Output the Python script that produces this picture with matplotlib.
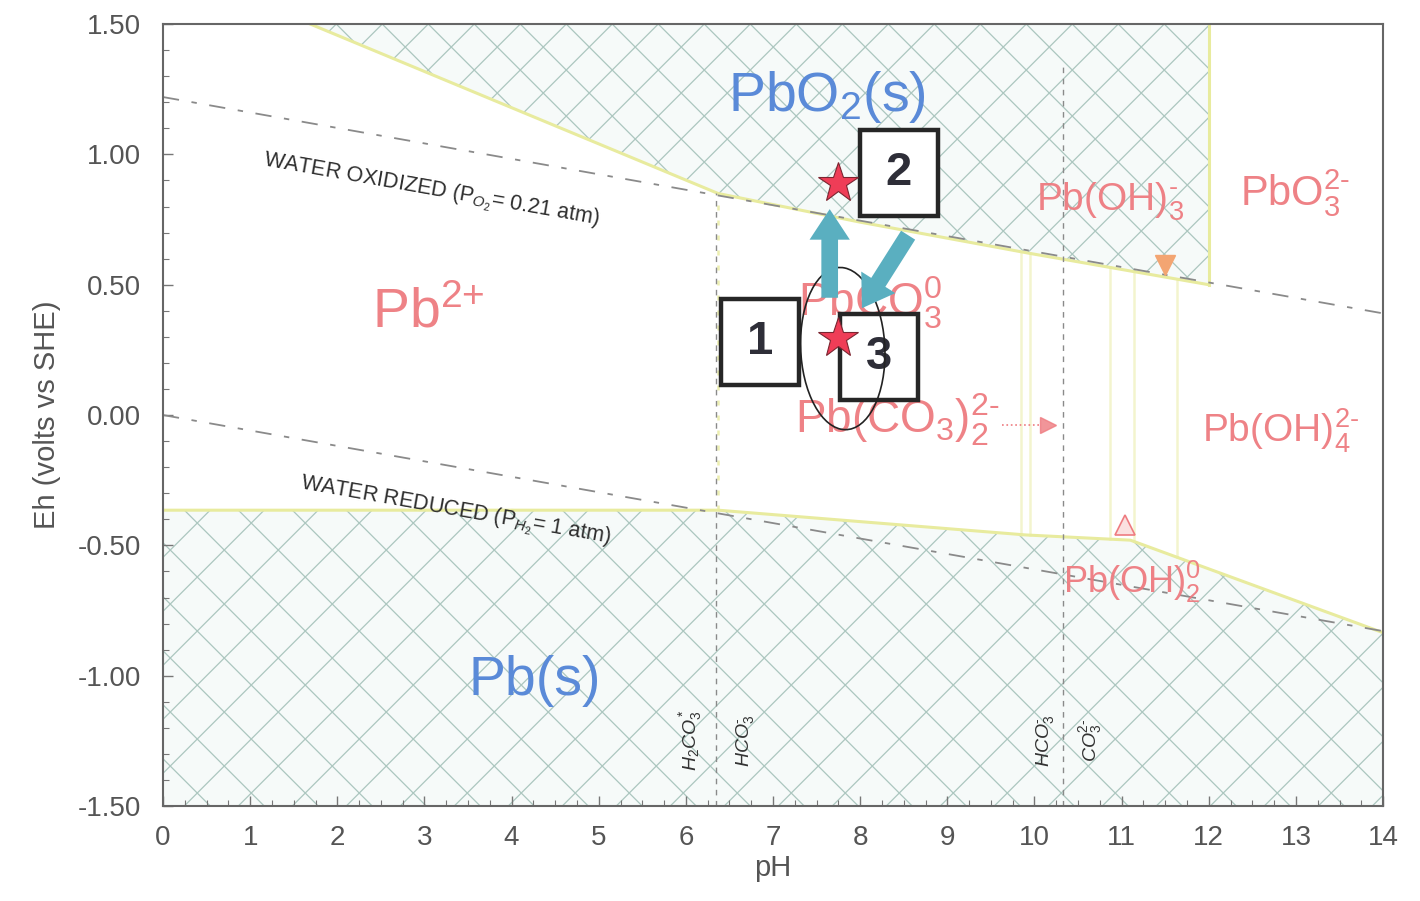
import numpy as np
import matplotlib
matplotlib.use("Agg")
import matplotlib.pyplot as plt
from matplotlib.patches import Polygon, Rectangle, Ellipse
from matplotlib.ticker import MultipleLocator, FixedLocator

plt.rcParams['font.family'] = ['Liberation Sans', 'DejaVu Sans']
plt.rcParams['mathtext.fontset'] = 'custom'
plt.rcParams['mathtext.rm'] = 'Liberation Sans'
plt.rcParams['mathtext.it'] = 'Liberation Sans:italic'
plt.rcParams['mathtext.bf'] = 'Liberation Sans:bold'

# ---- axes ----
ph_range = (0, 14)
eh_range = (-1.5, 1.5)
ph_ticks = list(range(0, 15))
eh_ticks = [-1.5, -1.0, -0.5, 0.0, 0.5, 1.0, 1.5]
eh_tick_labels = ["-1.50", "-1.00", "-0.50", "0.00", "0.50", "1.00", "1.50"]

# ---- solid-phase stability fields (pH, Eh / V) ----
pbo2_ph = [1.69, 6.37, 8.0, 9.95, 12.0, 12.0]
pbo2_eh = [1.50, 0.85, 0.74, 0.62, 0.50, 1.50]
pbs_ph = [0.0, 0.0, 6.37, 9.9, 11.1, 14.0, 14.0]
pbs_eh = [-1.50, -0.365, -0.365, -0.46, -0.48, -0.835, -1.50]

# ---- water stability limits ----
water_ph = [0.0, 14.0]
o2_eh = [1.22, 0.39]
h2_eh = [0.0, -0.829]

# ---- aqueous-species boundaries (vertical) ----
aq_ph = [6.37, 9.84, 9.95, 10.87, 11.14, 11.64]
carb_ph = [6.35, 10.33]          # H2CO3*/HCO3-  and  HCO3-/CO3 2-
carb_top = [0.85, 1.35]

# ---- species labels ----
solid_labels = ["PbO$_2$(s)", "Pb(s)"]
solid_pos = [(7.62, 1.22), (4.27, -1.02)]
aq_labels = ["Pb$^{\\text{2+}}$", "PbCO$_3^0$", "Pb(CO$_3$)$_2^{\\text{2-}}$",
             "Pb(OH)$_3^{\\text{-}}$", "PbO$_3^{\\text{2-}}$",
             "Pb(OH)$_4^{\\text{2-}}$", "Pb(OH)$_2^0$"]
aq_pos = [(3.04, 0.39), (8.11, 0.43), (8.43, -0.02), (10.87, 0.82),
          (12.99, 0.85), (12.82, -0.06), (11.12, -0.64)]
aq_sizes = [40, 33, 33, 28, 30, 28, 26]

carb_labels = ["H$_2$CO$_3^*$", "HCO$_3^{\\text{-}}$", "HCO$_3^{\\text{-}}$",
               "CO$_3^{\\text{2-}}$"]
carb_label_ph = [6.05, 6.68, 10.12, 10.64]
carb_label_eh = -1.25

# ---- sample states ----
box_labels = ["1", "2", "3"]
box_ph = [6.85, 8.44, 8.22]
box_eh = [0.28, 0.93, 0.223]
star_ph = [7.75, 7.75]
star_eh = [0.892, 0.296]
loop_center = (7.80, 0.255)
loop_size = (0.97, 0.62)
arrow_from = [(7.65, 0.45), (8.55, 0.69)]
arrow_to = [(7.65, 0.79), (8.02, 0.41)]

pink = '#ee7b80'
blue = '#5a8ad8'
yellow = '#e8eb9e'
hatch_col = '#abc6bf'
tint = '#f6faf9'
teal = '#5aafc0'

fig = plt.figure(figsize=(14.2, 9.01), dpi=100)
ax = fig.add_axes([0.1148, 0.1054, 0.8592, 0.8679])
ax.set_xlim(*ph_range)
ax.set_ylim(*eh_range)


def hatch_region(xs, ys, spacing_px):
    poly = Polygon(np.column_stack([xs, ys]), closed=True, facecolor=tint,
                   edgecolor='none', zorder=1)
    ax.add_patch(poly)
    bb = ax.get_window_extent()
    sx = bb.width / (ph_range[1] - ph_range[0])
    sy = bb.height / (eh_range[1] - eh_range[0])
    k = sx / sy
    step = spacing_px / sx
    xl = np.array([-6.0, 20.0])
    for c in np.arange(-12, 26, step):
        for sgn in (1, -1):
            ln, = ax.plot(xl, sgn * k * (xl - c), color=hatch_col, lw=0.9,
                          zorder=1.5, scalex=False, scaley=False)
            ln.set_clip_path(poly)


hatch_region(pbo2_ph, pbo2_eh, 46)
hatch_region(pbs_ph, pbs_eh, 54)

# field boundaries
ax.plot(pbo2_ph[:5], pbo2_eh[:5], color=yellow, lw=2.2, zorder=2)
ax.plot(pbo2_ph[4:], pbo2_eh[4:], color=yellow, lw=2.2, zorder=2)
ax.plot(pbs_ph[1:6], pbs_eh[1:6], color=yellow, lw=2.2, zorder=2)
up_b = np.interp(aq_ph, pbo2_ph[:5], pbo2_eh[:5])
lo_b = np.interp(aq_ph, pbs_ph[1:6], pbs_eh[1:6])
for i, p in enumerate(aq_ph):
    ls = (0, (2, 4)) if i == 0 else '-'
    ax.plot([p, p], [lo_b[i], up_b[i]], color=yellow, lw=1.8, ls=ls,
            alpha=0.8 if i == 0 else 0.5, zorder=2)

# carbonate speciation limits
for p, t in zip(carb_ph, carb_top):
    ax.plot([p, p], [eh_range[0], t], color='#8a8a8a', lw=1.0,
            ls=(0, (4, 4)), zorder=2.2)

# water limits
ax.plot(water_ph, o2_eh, color='#8a8a8a', lw=1.3, ls=(0, (9, 7, 3, 7)), zorder=2.3)
ax.plot(water_ph, h2_eh, color='#8a8a8a', lw=1.3, ls=(0, (9, 7, 3, 7)), zorder=2.3)
ax.text(1.14, 0.955, "WATER OXIDIZED (P$_{O_2}$= 0.21 atm)", fontsize=15.5,
        rotation=-10, rotation_mode='anchor', ha='left', va='baseline',
        color='#2e2e2e', zorder=3)
ax.text(1.57, -0.285, "WATER REDUCED (P$_{H_2}$= 1 atm)", fontsize=15.5,
        rotation=-10, rotation_mode='anchor', ha='left', va='baseline',
        color='#2e2e2e', zorder=3)

# species labels
for lab, (x, y) in zip(solid_labels, solid_pos):
    ax.text(x, y, lab, fontsize=40, color=blue, ha='center', va='center', zorder=3)
for lab, (x, y), s in zip(aq_labels, aq_pos, aq_sizes):
    ax.text(x, y, lab, fontsize=s, color=pink, ha='center', va='center',
            alpha=0.95, zorder=3)
for lab, x in zip(carb_labels, carb_label_ph):
    ax.text(x, carb_label_eh, lab, fontsize=14, rotation=90, ha='center',
            va='center', color='#333333', style='italic', zorder=3)

# small pointers to narrow fields
ax.plot([9.63, 10.05], [-0.04, -0.04], color=pink, lw=1.2, ls=':', zorder=3)
ax.plot([10.15], [-0.04], marker='>', ms=12, color=pink, mec=pink, alpha=0.8, zorder=3)
ax.plot([11.04], [-0.42], marker='^', ms=14, mfc='#fbe0e0', mec=pink, mew=1.2, zorder=3)
ax.plot([11.5], [0.575], marker='v', ms=15, color='#f3a572', zorder=3)

# sample boxes
bb = ax.get_window_extent()
bw = 78 / (bb.width / 14.0)
bh = 86 / (bb.height / 3.0)
for lab, x, y in zip(box_labels, box_ph, box_eh):
    ax.add_patch(Rectangle((x - bw / 2, y - bh / 2), bw, bh, facecolor='white',
                           edgecolor='#262626', lw=3.2, zorder=5))
    ax.text(x, y, lab, fontsize=34, fontweight='bold', color='#2e2e38',
            ha='center', va='center', zorder=6)

# loop of measured conditions
ax.add_patch(Ellipse(loop_center, loop_size[0], loop_size[1], angle=-4,
                     facecolor='none', edgecolor='#222222', lw=1.2, zorder=6))

# transitions
for (x0, y0), (x1, y1) in zip(arrow_from, arrow_to):
    ax.annotate('', xy=(x1, y1), xytext=(x0, y0),
                arrowprops=dict(arrowstyle='simple,head_length=1.1,head_width=1.45,tail_width=0.6',
                                color=teal, lw=0, shrinkA=0, shrinkB=0,
                                mutation_scale=20),
                zorder=7)

ax.plot(star_ph, star_eh, ls='none', marker='*', ms=30, mfc='#ef3d57',
        mec='#7a2530', mew=0.8, zorder=8)

# axes styling
ax.xaxis.set_major_locator(FixedLocator(ph_ticks))
ax.xaxis.set_minor_locator(MultipleLocator(0.25))
ax.yaxis.set_major_locator(FixedLocator(eh_ticks))
ax.yaxis.set_minor_locator(MultipleLocator(0.1))
ax.set_yticklabels(eh_tick_labels)
ax.tick_params(which='both', direction='in', color='#777777', labelsize=20,
               labelcolor='#555555')
ax.tick_params(which='major', length=7, width=1)
ax.tick_params(which='minor', length=4, width=0.8)
ax.tick_params(axis='y', pad=16)
ax.tick_params(axis='x', pad=14)
for s in ax.spines.values():
    s.set_color('#666666')
    s.set_linewidth(1.5)
    s.set_zorder(9)
ax.set_xlabel("pH", fontsize=21, color='#555555', labelpad=2)
ax.set_ylabel("Eh (volts vs SHE)", fontsize=21, color='#555555', labelpad=12)

fig.savefig("out.png", dpi=100, facecolor='white')
